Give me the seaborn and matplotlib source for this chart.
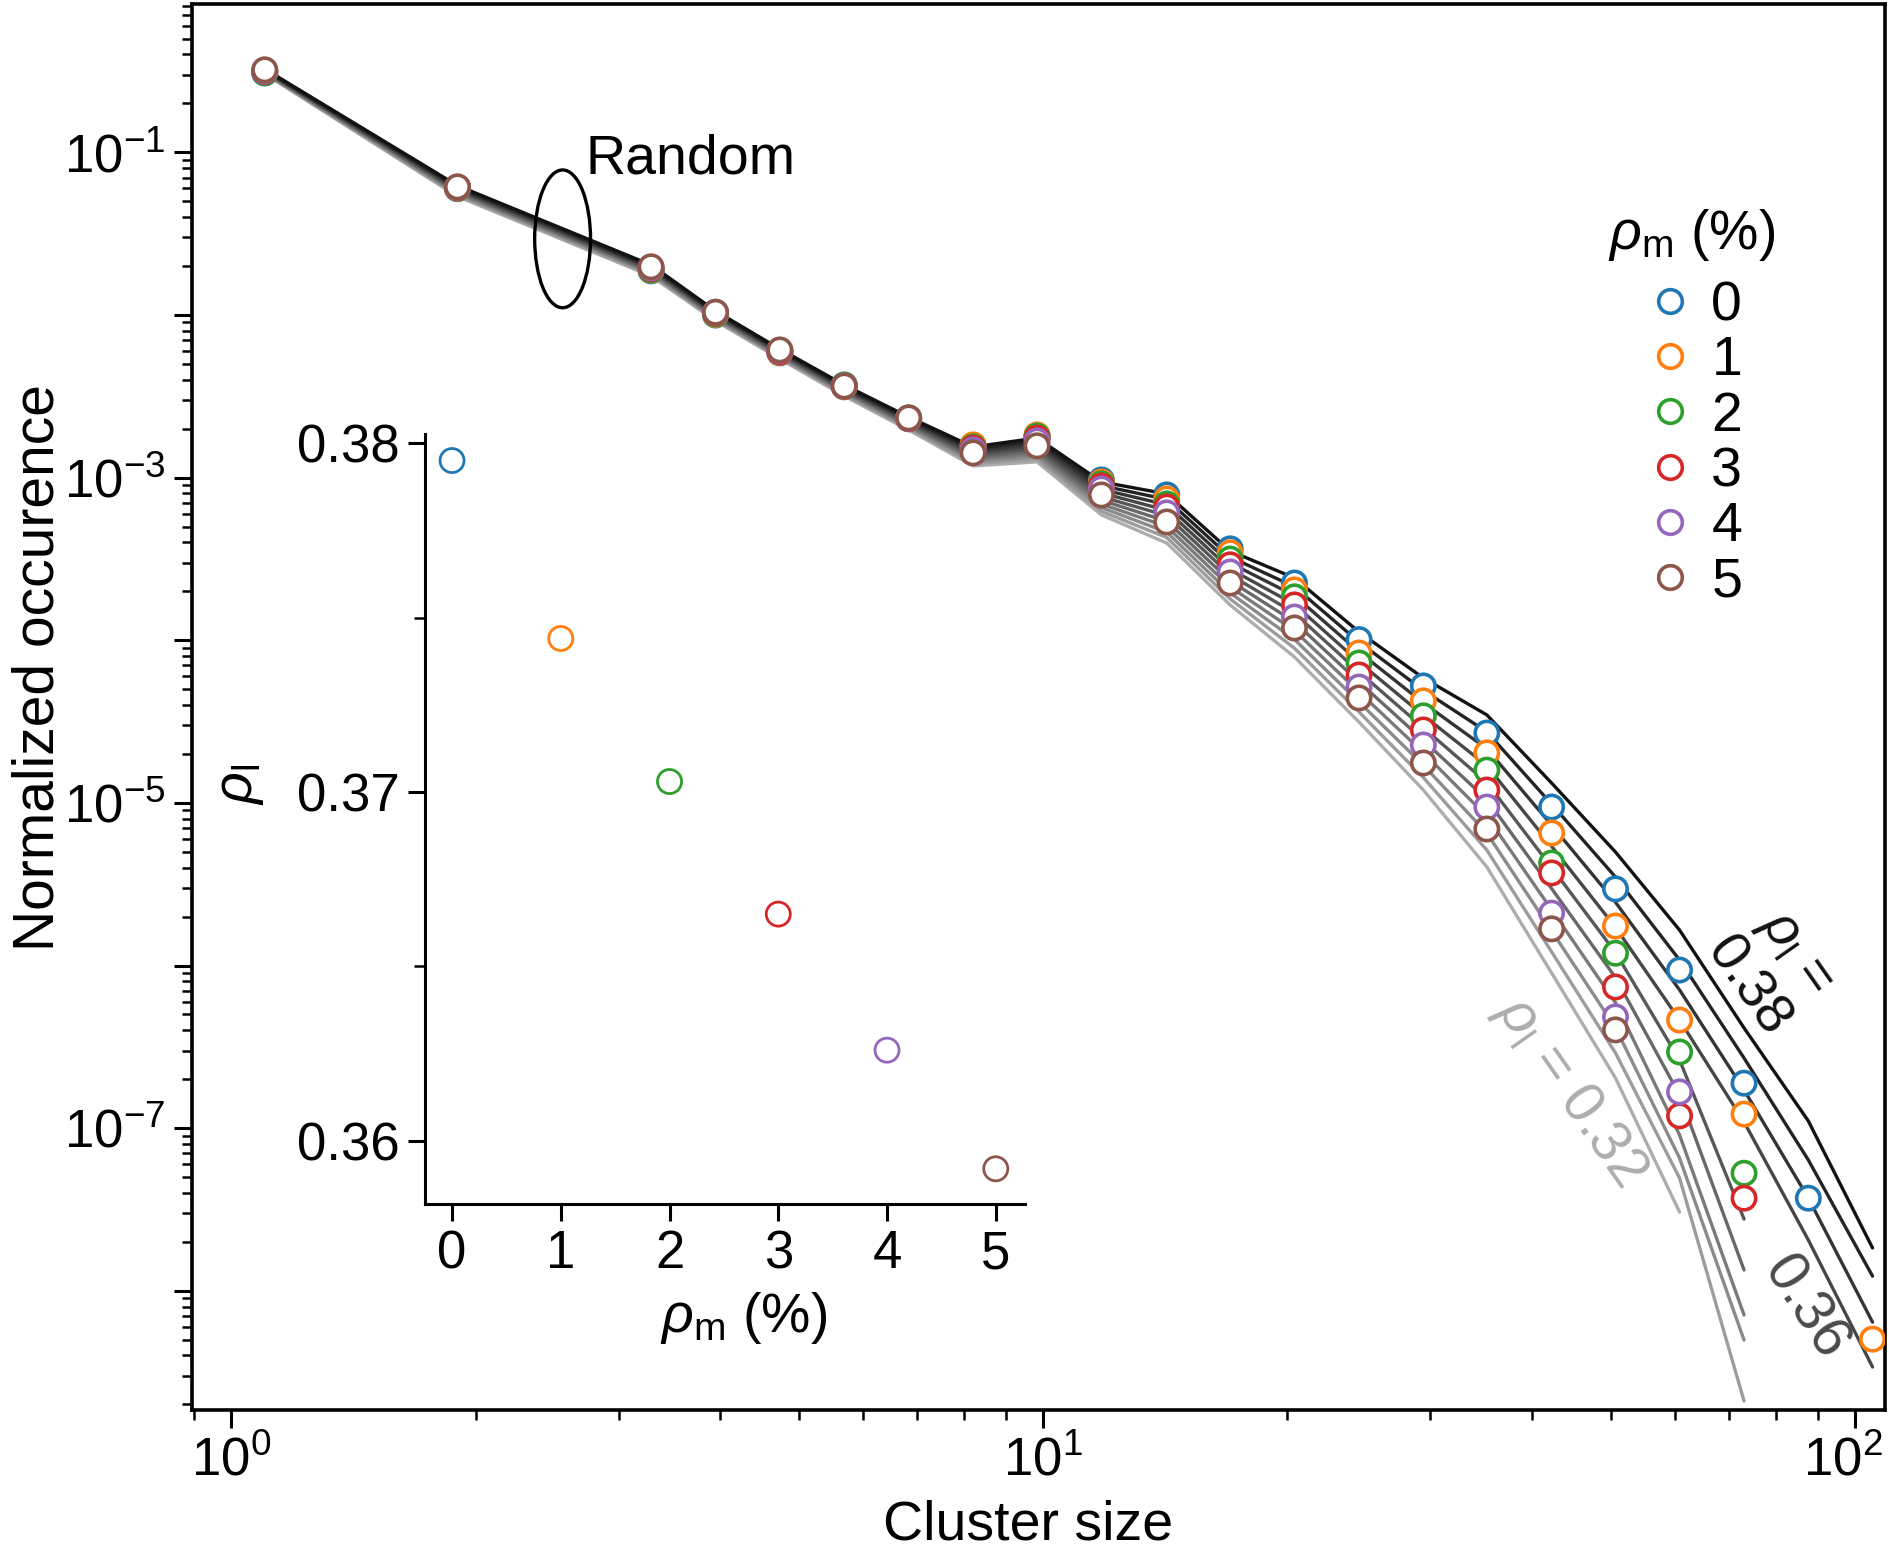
import numpy as np
import pandas as pd
import matplotlib
matplotlib.use("Agg")
import matplotlib.pyplot as plt
import matplotlib.transforms as mtransforms
import seaborn as sns
from matplotlib.patches import Ellipse
from matplotlib.lines import Line2D
from matplotlib.ticker import FixedLocator, FuncFormatter, LogLocator, MultipleLocator, NullFormatter

# ---- data ----
cluster_size = [1.10, 1.90, 3.29, 3.95, 4.74, 5.69, 6.83, 8.20, 9.83, 11.8, 14.2,
                17.0, 20.4, 24.5, 29.4, 35.2, 42.3, 50.7, 60.8, 73.0, 87.6, 105.1]

nan = np.nan
# normalized occurence for each rho_m (%)
occ_rho_m0 = [0.308, 0.0598, 0.0187, 0.0100, 0.00585, 0.00362, 0.00230, 1.57e-3, 1.78e-3, 9.68e-4, 7.83e-4,
              3.65e-4, 2.25e-4, 1.01e-4, 5.24e-5, 2.69e-5, 9.43e-6, 2.96e-6, 9.38e-7, 1.89e-7, 3.71e-8, nan]
occ_rho_m1 = [0.312, 0.0602, 0.0189, 0.0101, 0.00590, 0.00364, 0.00231, 1.59e-3, 1.83e-3, 9.41e-4, 7.40e-4,
              3.45e-4, 2.04e-4, 8.36e-5, 4.24e-5, 2.03e-5, 6.53e-6, 1.75e-6, 4.62e-7, 1.22e-7, nan, 5.04e-9]
occ_rho_m2 = [0.310, 0.0605, 0.0190, 0.0102, 0.00600, 0.00372, 0.00233, 1.545e-3, 1.80e-3, 9.15e-4, 6.89e-4,
              3.16e-4, 1.85e-4, 7.25e-5, 3.43e-5, 1.59e-5, 4.27e-6, 1.19e-6, 2.94e-7, 5.28e-8, nan, nan]
occ_rho_m3 = [0.315, 0.0608, 0.0193, 0.0103, 0.00595, 0.00366, 0.00231, 1.52e-3, 1.75e-3, 8.89e-4, 6.60e-4,
              2.91e-4, 1.65e-4, 6.12e-5, 2.81e-5, 1.20e-5, 3.71e-6, 7.38e-7, 1.19e-7, 3.71e-8, nan, nan]
occ_rho_m4 = [0.318, 0.0611, 0.0195, 0.0104, 0.00605, 0.00368, 0.00232, 1.48e-3, 1.68e-3, 8.52e-4, 6.07e-4,
              2.63e-4, 1.39e-4, 5.16e-5, 2.27e-5, 9.43e-6, 2.10e-6, 4.83e-7, 1.67e-7, nan, nan, nan]
occ_rho_m5 = [0.322, 0.0614, 0.0198, 0.0104, 0.00610, 0.00366, 0.00233, 1.42e-3, 1.57e-3, 7.83e-4, 5.34e-4,
              2.25e-4, 1.19e-4, 4.42e-5, 1.76e-5, 6.91e-6, 1.68e-6, 4.02e-7, nan, nan, nan, nan]

# random reference curves, log10 of normalized occurence, one per rho_l
line_380 = [-0.487, -1.204, -1.692, -1.975, -2.209, -2.430, -2.627, -2.811, -2.756, -3.026, -3.100,
            -3.451, -3.617, -3.949, -4.232, -4.459, -4.878, -5.302, -5.782, -6.384, -6.956, -7.737]
line_373 = [-0.490, -1.211, -1.699, -1.982, -2.215, -2.437, -2.636, -2.824, -2.772, -3.049, -3.134,
            -3.488, -3.671, -4.011, -4.308, -4.563, -5.008, -5.456, -5.966, -6.569, -7.196, -7.910]
line_367 = [-0.493, -1.219, -1.707, -1.988, -2.222, -2.445, -2.644, -2.837, -2.789, -3.072, -3.167,
            -3.525, -3.725, -4.072, -4.385, -4.667, -5.137, -5.611, -6.150, -6.765, -7.430, -8.193]
line_360 = [-0.497, -1.226, -1.714, -1.995, -2.229, -2.452, -2.653, -2.850, -2.805, -3.094, -3.201,
            -3.562, -3.779, -4.134, -4.462, -4.771, -5.267, -5.765, -6.335, -6.962, -7.688, -8.469]
line_353 = [-0.500, -1.234, -1.722, -2.002, -2.236, -2.460, -2.662, -2.863, -2.821, -3.117, -3.234,
            -3.598, -3.833, -4.195, -4.538, -4.875, -5.397, -5.920, -6.581, -7.559, nan, nan]
line_347 = [-0.504, -1.241, -1.729, -2.009, -2.243, -2.467, -2.671, -2.876, -2.838, -3.139, -3.268,
            -3.635, -3.887, -4.257, -4.615, -4.979, -5.527, -6.074, -6.796, -7.872, nan, nan]
line_340 = [-0.507, -1.249, -1.737, -2.016, -2.250, -2.475, -2.680, -2.889, -2.854, -3.162, -3.301,
            -3.672, -3.941, -4.318, -4.691, -5.083, -5.657, -6.229, -7.042, -8.149, nan, nan]
line_333 = [-0.510, -1.256, -1.744, -2.023, -2.256, -2.482, -2.689, -2.902, -2.871, -3.184, -3.335,
            -3.709, -3.995, -4.380, -4.768, -5.186, -5.787, -6.383, -7.184, -8.303, nan, nan]
line_327 = [-0.514, -1.264, -1.752, -2.029, -2.263, -2.490, -2.698, -2.915, -2.887, -3.207, -3.368,
            -3.746, -4.049, -4.441, -4.844, -5.290, -5.916, -6.538, -7.307, -8.678, nan, nan]
line_320 = [-0.517, -1.271, -1.760, -2.036, -2.270, -2.498, -2.707, -2.928, -2.903, -3.229, -3.402,
            -3.783, -4.103, -4.503, -4.921, -5.394, -6.046, -6.692, -7.516, nan, nan, nan]

# inset: fitted rho_l for each rho_m
rho_m_pct = [0, 1, 2, 3, 4, 5]
rho_l_fit = [0.3795, 0.3744, 0.3703, 0.3665, 0.3626, 0.3592]

rho_m_labels = ["0", "1", "2", "3", "4", "5"]
rho_l_labels = ["0.32", "0.327", "0.333", "0.34", "0.347", "0.353", "0.36", "0.367", "0.373", "0.38"]

# ---- style ----
sns.set_style("ticks")
plt.rcParams["font.family"] = ["Liberation Sans", "DejaVu Sans"]
plt.rcParams["mathtext.fontset"] = "custom"
plt.rcParams["mathtext.rm"] = "Liberation Sans"
plt.rcParams["mathtext.it"] = "Liberation Sans:italic"
plt.rcParams["mathtext.bf"] = "Liberation Sans:bold"
for k in ["text.color", "axes.labelcolor", "xtick.color", "ytick.color", "axes.edgecolor"]:
    plt.rcParams[k] = "black"

FS = 40
TS = 38
colors = sns.color_palette("tab10", 6)
palette = dict(zip(rho_m_labels, colors))
grays = [str(g) for g in np.linspace(0.68, 0.07, 10)]   # light (0.32) -> black (0.38)

fig = plt.figure(figsize=(18.9, 15.54), dpi=100)
ax = fig.add_axes([0.1016, 0.0927, 0.8958, 0.9048])
ax.set_xscale("log")
ax.set_yscale("log")

# grey curves, lightest first so the black one sits on top
lines = [line_320, line_327, line_333, line_340, line_347, line_353, line_360, line_367, line_373, line_380]
for i, (lab, vals) in enumerate(zip(rho_l_labels, lines)):
    df_line = pd.DataFrame({"cluster_size": cluster_size, "occ": np.power(10.0, vals)})
    sns.lineplot(data=df_line, x="cluster_size", y="occ", color=grays[i], linewidth=2.4,
                 estimator=None, sort=False, legend=False, ax=ax, zorder=1 + 0.01 * i)

# open circles
series = [occ_rho_m0, occ_rho_m1, occ_rho_m2, occ_rho_m3, occ_rho_m4, occ_rho_m5]
df_pts = pd.concat([pd.DataFrame({"cluster_size": cluster_size, "occ": s, "rho_m": lab})
                    for lab, s in zip(rho_m_labels, series)], ignore_index=True)
sns.scatterplot(data=df_pts, x="cluster_size", y="occ", hue="rho_m", hue_order=rho_m_labels,
                palette=palette, s=282, linewidth=2.6, legend=False, ax=ax, zorder=3)
coll = ax.collections[-1]
fc = coll.get_facecolors()
coll.set_edgecolors(fc)
coll.set_facecolors("white")

ax.set_xlim(0.895, 108.9)
ax.set_ylim(1.85e-9, 0.819)

ax.xaxis.set_major_locator(FixedLocator([1, 10, 100]))
ax.xaxis.set_minor_locator(LogLocator(base=10, subs=np.arange(2, 10), numticks=20))
ax.xaxis.set_major_formatter(FuncFormatter(lambda v, p: r"$\mathdefault{10^{%d}}$" % round(np.log10(v))))
ax.xaxis.set_minor_formatter(NullFormatter())
ax.yaxis.set_major_locator(LogLocator(base=10, numticks=20))
ax.yaxis.set_minor_locator(LogLocator(base=10, subs=np.arange(2, 10), numticks=20))


def ylab(v, p):
    e = int(round(np.log10(v)))
    return r"$\mathdefault{10^{%d}}$" % e if e % 2 else ""


ax.yaxis.set_major_formatter(FuncFormatter(ylab))
ax.yaxis.set_minor_formatter(NullFormatter())
ax.tick_params(which="major", direction="out", length=13, width=2.2, labelsize=TS, pad=6)
ax.tick_params(which="minor", direction="out", length=7, width=1.8)
ax.tick_params(top=False, right=False, which="both")
for sp in ax.spines.values():
    sp.set_linewidth(2.6)
    sp.set_color("black")

# nudge the 10^2 label left so it stays on the canvas
last = ax.xaxis.get_major_ticks()[-1].label1
last.set_transform(last.get_transform() +
                   mtransforms.ScaledTranslation(-9 / 72, 0, fig.dpi_scale_trans))

ax.set_xlabel("Cluster size", fontsize=FS)
ax.set_ylabel("Normalized occurence", fontsize=41)
ax.xaxis.set_label_coords(0.494, -0.064)
ax.yaxis.set_label_coords(-0.075, 0.528)

# "Random" ellipse marker
ell_c = ax.transAxes.inverted().transform(ax.transData.transform((2.56, 0.0294)))
ax.add_patch(Ellipse(ell_c, 0.033, 0.098, transform=ax.transAxes, fill=False, lw=2.4,
                     edgecolor="black", zorder=4))
ax.text(2.73, 0.090, "Random", fontsize=FS, ha="left", va="center")

# curve labels
ax.text(79.0, 9.4e-7, r"$\rho_\mathrm{l}$ =" + "\n0.38", fontsize=40, color="0.07",
        rotation=-55, ha="center", va="center", rotation_mode="anchor", linespacing=1.15)
ax.text(86.8, 7.8e-9, "0.36", fontsize=41, color="0.29", rotation=-57,
        ha="center", va="center", rotation_mode="anchor")
ax.text(44.6, 1.69e-7, r"$\rho_\mathrm{l}$ = 0.32", fontsize=41, color="0.68", rotation=-55,
        ha="center", va="center", rotation_mode="anchor")

# legend
handles = [Line2D([], [], ls="none", marker="o", ms=17, mew=2.6, mfc="white", mec=palette[l])
           for l in rho_m_labels]
leg = ax.legend(handles, rho_m_labels, title=r"$\rho_\mathrm{m}$ (%)", fontsize=FS, title_fontsize=FS,
                frameon=False, loc="upper center", bbox_to_anchor=(0.886, 0.879),
                handlelength=1.0, handletextpad=0.25, labelspacing=0.06, borderpad=0.1)
leg._legend_box.sep = 12

# ---- inset ----
ins = fig.add_axes([0.2249, 0.2252, 0.3175, 0.4955])
ins.patch.set_alpha(0)
df_ins = pd.DataFrame({"rho_m": rho_m_pct, "rho_l": rho_l_fit, "lab": rho_m_labels})
sns.scatterplot(data=df_ins, x="rho_m", y="rho_l", hue="lab", hue_order=rho_m_labels,
                palette=palette, s=300, linewidth=2.0, legend=False, ax=ins)
c2 = ins.collections[-1]
c2.set_edgecolors(c2.get_facecolors())
c2.set_facecolors("white")
ins.set_xlim(-0.248, 5.27)
ins.set_ylim(0.35819, 0.38026)
ins.xaxis.set_major_locator(MultipleLocator(1))
ins.yaxis.set_major_locator(MultipleLocator(0.01))
ins.yaxis.set_minor_locator(MultipleLocator(0.005))
ins.yaxis.set_major_formatter(FuncFormatter(lambda v, p: f"{v:.2f}"))
ins.tick_params(which="major", direction="out", length=12, width=2.2, labelsize=TS, pad=6)
ins.tick_params(which="minor", direction="out", length=8, width=1.8)
sns.despine(ax=ins)
for sp in ["left", "bottom"]:
    ins.spines[sp].set_linewidth(2.2)
    ins.spines[sp].set_color("black")
ins.set_xlabel(r"$\rho_\mathrm{m}$ (%)", fontsize=FS)
ins.set_ylabel(r"$\rho_\mathrm{l}$", fontsize=FS)
ins.xaxis.set_label_coords(0.531, -0.112)
ins.yaxis.set_label_coords(-0.265, 0.545)

fig.savefig("out.png", dpi=100)
plt.close(fig)
